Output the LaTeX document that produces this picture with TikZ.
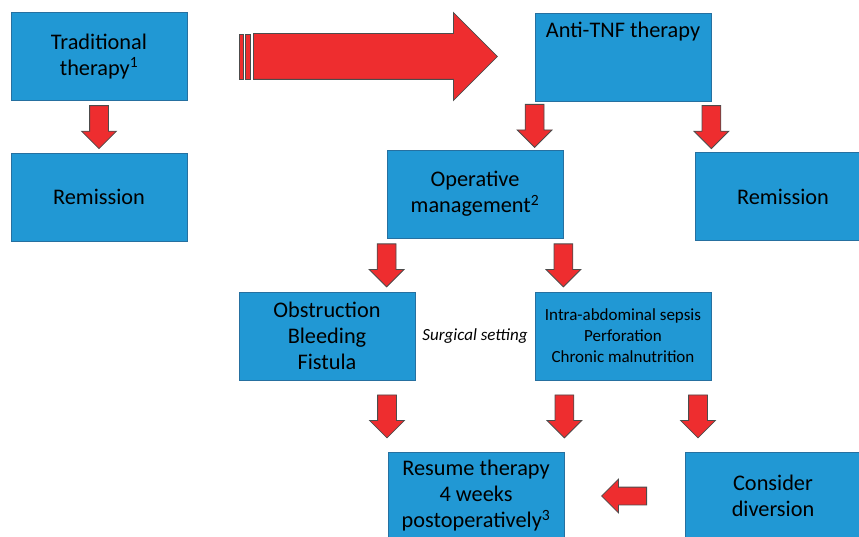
\documentclass[tikz,border=0pt]{standalone}
\usepackage{fontspec}
\setmainfont{Carlito}
\usetikzlibrary{shapes.arrows,calc}

\definecolor{boxblue}{RGB}{33,152,212}
\definecolor{boxedge}{RGB}{38,112,160}
\definecolor{arrowred}{RGB}{238,45,47}

\begin{document}
\begin{tikzpicture}[x=1pt,y=-1pt]
      \tikzstyle{box}=[rectangle, fill=boxblue, draw=boxedge, line width=0.8pt, minimum width=176pt, minimum height=88pt, inner sep=0pt, align=center, font=\fontsize{22.3}{26}\selectfont]
      \tikzstyle{small}=[font=\fontsize{17}{21}\selectfont]
      \tikzstyle{arr}=[single arrow, draw=black!70, fill=arrowred, line width=0.8pt, anchor=tail, minimum height=43pt, single arrow head extend=8pt]
      \tikzstyle{down}=[arr, shape border rotate=270, inner xsep=9pt, inner ysep=0pt]
      \tikzstyle{left}=[arr, shape border rotate=180, minimum height=45pt, inner xsep=0pt, inner ysep=8.5pt]

      \clip (0,0) rectangle (859,537);
      \useasboundingbox (0,0) rectangle (859,537);

      % boxes
      \node[box] (trad) at (99,56.5) {Traditional\\therapy\textsuperscript{1}};
      \node[box] (rem1) at (99,197) {Remission};
      \node[box] (tnf) at (623,57) {};
      \node[anchor=north, font=\fontsize{22.3}{26}\selectfont] at ($(tnf.north)+(0,6)$) {Anti-TNF therapy};
      \node[box] (op) at (475,194) {Operative\\management\textsuperscript{2}};
      \node[box] (rem2) at (783,196.5) {Remission};
      \node[box] (obs) at (327,336) {Obstruction\\Bleeding\\Fistula};
      \node[box, small] (sep) at (623,336) {Intra-abdominal sepsis\\Perforation\\Chronic malnutrition};
      \node[font=\fontsize{17}{19}\selectfont\itshape] (setting) at ($(obs.east)!0.5!(sep.west)$) {Surgical setting};
      \node[box] (res) at (476,496) {Resume therapy\\4 weeks\\postoperatively\textsuperscript{3}};
      \node[box] (div) at (773,496) {Consider\\diversion};

      % big arrow
      \node[single arrow, draw=black!70, fill=arrowred, line width=0.8pt, anchor=tail, inner xsep=0pt, inner ysep=22.5pt, minimum height=244pt, single arrow head extend=21pt] (big) at (253,56.5) {};
      \filldraw[fill=arrowred, draw=black!70, line width=0.8pt] (239,34) rectangle (243,79);
      \filldraw[fill=arrowred, draw=black!70, line width=0.8pt] (245,34) rectangle (250,79);

      % small arrows
      \node[down] (a1) at ($(trad.south)!0.5!(rem1.north)+(0,-21.5)$) {};
      \node[down] (a2) at ($(tnf.south west)!0.5!(tnf.south west |- op.north)+(0,-21.5)$) {};
      \node[down] (a3) at ($(tnf.south east)!0.5!(tnf.south east |- rem2.north)+(0,-21.5)$) {};
      \node[down] (a4) at ($(op.south west)!0.5!(op.south west |- obs.north)+(0,-21.5)$) {};
      \node[down] (a5) at ($(op.south east)!0.5!(op.south east |- sep.north)+(0,-21.5)$) {};
      \node[down] (a6) at ($(387,0 |- obs.south)!0.5!(387,0 |- res.north)+(0,-21.5)$) {};
      \node[down] (a7) at ($(res.north east |- sep.south)!0.5!(res.north east)+(0,-21.5)$) {};
      \node[down] (a8) at ($(698,0 |- sep.south)!0.5!(698,0 |- div.north)+(0,-21.5)$) {};
      \node[left] (a9) at ($(res.east)!0.5!(div.west)+(22.5,0)$) {};
\end{tikzpicture}
\end{document}
